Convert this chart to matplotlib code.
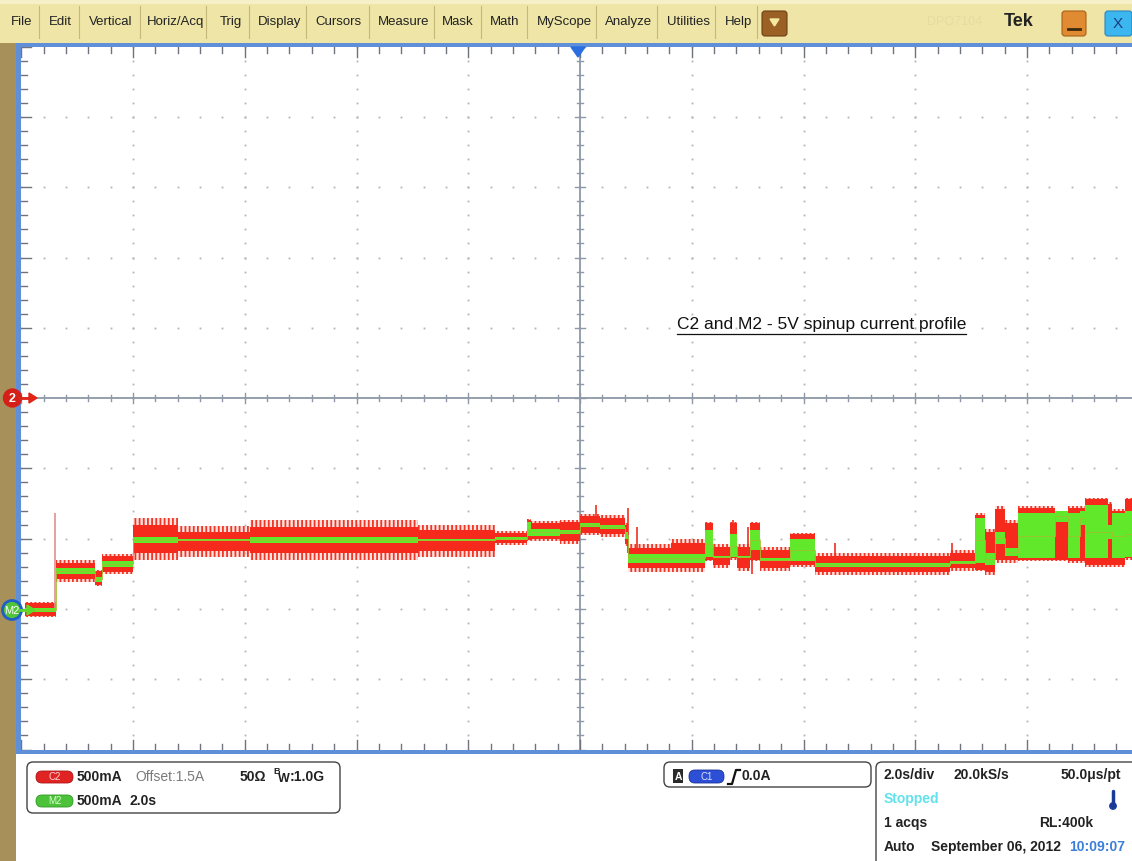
import numpy as np
import matplotlib.pyplot as plt
from matplotlib.patches import Rectangle, FancyBboxPatch, Circle, Polygon

plt.rcParams['font.family'] = ['Liberation Sans', 'DejaVu Sans']
plt.rcParams['hatch.linewidth'] = 1.3

# scope settings
sec_per_div = 2.0
amp_per_div = 0.5
offset_amp = 1.5

# waveform segments (start time in s, currents in A)
seg_start = [-9.93, -9.37, -8.68, -8.56, -8.00, -7.19, -5.90, -2.90, -1.53, -0.95,
             -0.88, -0.36, 0.00, 0.36, 0.81, 0.86, 1.62, 2.24, 2.38, 2.69,
             2.81, 3.04, 3.22, 3.76, 4.21, 6.62, 7.07, 7.25, 7.43, 7.61,
             7.84, 8.50, 8.73, 8.95, 9.04, 9.45, 9.52, 9.75]
seg_end = 10.0
c2_low = [-0.05, 0.21, 0.17, 0.26, 0.40, 0.41, 0.40, 0.41, 0.47, 0.49,
          0.50, 0.48, 0.54, 0.53, 0.46, 0.29, 0.29, 0.35, 0.31, 0.36,
          0.29, 0.35, 0.29, 0.31, 0.26, 0.29, 0.28, 0.26, 0.35, 0.35,
          0.35, 0.35, 0.34, 0.34, 0.31, 0.31, 0.31, 0.36]
c2_high = [0.04, 0.33, 0.27, 0.38, 0.60, 0.55, 0.58, 0.56, 0.54, 0.63,
           0.61, 0.62, 0.66, 0.65, 0.60, 0.43, 0.47, 0.61, 0.44, 0.61,
           0.44, 0.61, 0.42, 0.53, 0.38, 0.40, 0.67, 0.55, 0.71, 0.61,
           0.72, 0.62, 0.72, 0.72, 0.78, 0.75, 0.70, 0.78]
c2_fringe = [0.01, 0.02, 0.01, 0.01, 0.05, 0.04, 0.05, 0.04, 0.015, 0.01,
             0.015, 0.015, 0.015, 0.015, 0.01, 0.03, 0.03, 0.01, 0.02, 0.01,
             0.02, 0.01, 0.02, 0.01, 0.02, 0.02, 0.01, 0.02, 0.02, 0.02,
             0.01, 0.01, 0.01, 0.01, 0.01, 0.01, 0.01, 0.01]
m2_low = [-0.02, 0.25, 0.19, 0.30, 0.47, 0.48, 0.47, 0.48, 0.49, 0.52,
          0.52, 0.53, 0.58, 0.57, 0.50, 0.33, 0.33, 0.37, 0.36, 0.37,
          0.36, 0.42, 0.34, 0.34, 0.30, 0.32, 0.33, 0.31, 0.46, 0.38,
          0.36, 0.62, 0.36, 0.60, 0.36, 0.50, 0.36, 0.37]
m2_high = [0.01, 0.29, 0.23, 0.34, 0.51, 0.50, 0.51, 0.50, 0.51, 0.62,
           0.57, 0.56, 0.61, 0.60, 0.55, 0.39, 0.39, 0.56, 0.38, 0.53,
           0.38, 0.56, 0.36, 0.50, 0.33, 0.34, 0.65, 0.40, 0.55, 0.43,
           0.68, 0.70, 0.68, 0.70, 0.74, 0.60, 0.68, 0.70]

# isolated spikes on C2 (time, low, high)
spike_t = [0.29, 0.86, 1.02, 2.74, 3.00, 3.08, 4.57, 6.66, 9.43, -0.93]
spike_lo = [0.55, 0.40, 0.35, 0.40, 0.27, 0.25, 0.35, 0.32, 0.40, 0.50]
spike_hi = [0.74, 0.72, 0.58, 0.63, 0.58, 0.60, 0.47, 0.47, 0.78, 0.64]

menu_items = ['File', 'Edit', 'Vertical', 'Horiz/Acq', 'Trig', 'Display', 'Cursors',
              'Measure', 'Mask', 'Math', 'MyScope', 'Analyze', 'Utilities', 'Help']
menu_x = [11, 49, 89, 147, 220, 258, 315, 378, 442, 490, 537, 605, 667, 725]
menu_sep = [39, 79, 140, 206, 249, 306, 369, 434, 481, 527, 596, 657, 715, 757]

W, H = 1132, 861
fig = plt.figure(figsize=(W / 100, H / 100), dpi=100)

# background / chrome layer in pixel coordinates
ui = fig.add_axes([0, 0, 1, 1], zorder=0)
ui.set_xlim(0, W)
ui.set_ylim(H, 0)
ui.axis('off')

ui.add_patch(Rectangle((0, 0), W, 43, color='#eee5a6', lw=0))
ui.add_patch(Rectangle((0, 0), W, 4, color='#f6f0c8', lw=0))
for x, name in zip(menu_x, menu_items):
    ui.text(x, 22, name, fontsize=9.5, va='center', ha='left', color='#222222')
for x in menu_sep:
    ui.plot([x, x], [6, 38], color='#c6b977', lw=0.8)
ui.add_patch(FancyBboxPatch((762, 11), 25, 25, boxstyle='round,pad=0,rounding_size=3',
                            fc='#9a6024', ec='#6e4015', lw=0.8))
ui.add_patch(Polygon([[770, 19], [779, 19], [774.5, 26]], closed=True, color='#f4e9a0'))
ui.text(955, 22, 'DPO7104', fontsize=9, va='center', ha='center', color='#e6dca0')
ui.text(1019, 22, 'Tek', fontsize=13, fontweight='bold', va='center', ha='center', color='#222222')
ui.add_patch(FancyBboxPatch((1062, 11), 24, 25, boxstyle='round,pad=0,rounding_size=3',
                            fc='#e08a32', ec='#a8601c', lw=0.8))
ui.plot([1068, 1080], [29, 29], color='#3a2a10', lw=2)
ui.add_patch(FancyBboxPatch((1105, 11), 27, 25, boxstyle='round,pad=0,rounding_size=3',
                            fc='#3cb6ee', ec='#2a86c0', lw=0.8))
ui.text(1118, 24, 'X', fontsize=11, va='center', ha='center', color='#1a3c80')

# left brown strip
ui.add_patch(Rectangle((0, 43), 16, H - 43, color='#a8905a', lw=0))

# graticule
ax = fig.add_axes([21.25 / W, (H - 749.5) / H, 1117.5 / W, 702.8 / H], zorder=1)
ax.set_xlim(-5 * sec_per_div, 5 * sec_per_div)
ax.set_ylim(offset_amp - 5 * amp_per_div, offset_amp + 5 * amp_per_div)
ax.axis('off')
ax.add_patch(Rectangle((-10, -1), 20, 5, color='white', zorder=0))

px_x = 20 / 1117.5
px_y = 5 / 702.8
minor_x = np.arange(-10, 10.01, sec_per_div / 5)
minor_y = np.arange(-1, 4.001, amp_per_div / 5)
major_x = np.arange(-8, 8.01, sec_per_div)
major_y = np.arange(-0.5, 3.51, amp_per_div)

for gx in major_x:
    if abs(gx) > 1e-9:
        ax.plot(np.full_like(minor_y, gx), minor_y, ls='none', marker='s', ms=1.3,
                color='#b4b4b4', mew=0, zorder=1)
for gy in major_y:
    if abs(gy - offset_amp) > 1e-9:
        ax.plot(minor_x, np.full_like(minor_x, gy), ls='none', marker='s', ms=1.3,
                color='#b4b4b4', mew=0, zorder=1)

ax.axhline(offset_amp, color='#8e98a6', lw=1.3, zorder=1)
ax.axvline(0, color='#8e98a6', lw=1.3, zorder=1)
for x in minor_x:
    is_major = abs(x / sec_per_div - round(x / sec_per_div)) < 1e-6
    l = (5 if is_major else 3) * px_y
    ax.plot([x, x], [offset_amp - l, offset_amp + l], color='#8e98a6', lw=1, zorder=1)
    lt = (10 if is_major else 6) * px_y
    ax.plot([x, x], [4 - lt, 4], color='#6f747c', lw=1, zorder=1)
    ax.plot([x, x], [-1, -1 + lt], color='#6f747c', lw=1, zorder=1)
for y in minor_y:
    is_major = abs((y + 1) / amp_per_div - round((y + 1) / amp_per_div)) < 1e-6
    l = (5 if is_major else 3) * px_x
    ax.plot([-l, l], [y, y], color='#8e98a6', lw=1, zorder=1)
    lt = (10 if is_major else 6) * px_x
    ax.plot([-10, -10 + lt], [y, y], color='#6f747c', lw=1, zorder=1)

# waveforms
edges = np.r_[seg_start, seg_end]
lo = np.r_[c2_low, c2_low[-1]]
hi = np.r_[c2_high, c2_high[-1]]
fr = np.r_[c2_fringe, c2_fringe[-1]]
ax.fill_between(edges, lo - fr, hi + fr, step='post', color='#ffb0a8', lw=0, alpha=0.35, zorder=2)
ax.fill_between(edges, lo - fr, hi + fr, step='post', facecolor='none', edgecolor='#f03626',
                hatch='||||', lw=0, zorder=2)
ax.fill_between(edges, lo, hi, step='post', color='#f52a1c', lw=0, zorder=3)
ax.vlines(spike_t, spike_lo, spike_hi, color='#f03020', lw=1.2, zorder=3)
ax.vlines([-9.39], [0.0], [0.68], color='#e09090', lw=1.2, zorder=3)
glo = np.r_[m2_low, m2_low[-1]]
ghi = np.r_[m2_high, m2_high[-1]]
ax.fill_between(edges, glo, ghi, step='post', color='#62e82a', lw=0, zorder=4)
ax.step(edges, (glo + ghi) / 2, where='post', color='#9fc030', lw=0.6, zorder=5)

ax.text(1.736, 2.025, 'C2 and M2 - 5V spinup current profile', fontsize=12.5,
        ha='left', va='center', color='#111111', zorder=6)
ax.plot([1.736, 6.91], [1.955, 1.955], color='#111111', lw=0.9, zorder=6)

# overlay: frame and markers
ov = fig.add_axes([0, 0, 1, 1], zorder=2)
ov.set_xlim(0, W)
ov.set_ylim(H, 0)
ov.axis('off')
ov.patch.set_alpha(0)
ov.add_patch(Rectangle((16, 43), 5, 711, color='#5f8fd8', lw=0))
ov.add_patch(Rectangle((16, 43), W - 16, 4, color='#5f8fd8', lw=0))
ov.add_patch(Rectangle((16, 750), W - 16, 4, color='#5f8fd8', lw=0))
ov.add_patch(Polygon([[571, 47], [585, 47], [578, 57]], closed=True, color='#2a6ee0'))

ov.plot([20, 32], [398, 398], color='#e02418', lw=2)
ov.add_patch(Polygon([[29, 393], [37, 398], [29, 403]], closed=True, color='#e02418'))
ov.add_patch(Circle((12.5, 398), 9, color='#d42018'))
ov.text(12.5, 398.5, '2', fontsize=9, fontweight='bold', color='white', ha='center', va='center')

ov.plot([20, 30], [610, 610], color='#5ed82a', lw=2)
ov.add_patch(Polygon([[27, 605], [35, 610], [27, 615]], closed=True, color='#5ed82a'))
ov.add_patch(Circle((12, 610), 9.5, fc='#52c43a', ec='#1f5fc8', lw=2))
ov.text(12, 610.5, 'M2', fontsize=8, color='white', ha='center', va='center')

# bottom panels
ov.add_patch(FancyBboxPatch((27, 762), 313, 51, boxstyle='round,pad=0,rounding_size=6',
                            fc='white', ec='#444444', lw=1))
ov.add_patch(FancyBboxPatch((36, 771), 37, 12, boxstyle='round,pad=0,rounding_size=6',
                            fc='#e02424', ec='#b01414', lw=0.6))
ov.text(54.5, 777, 'C2', fontsize=7, color='#ffd0d0', ha='center', va='center')
ov.add_patch(FancyBboxPatch((36, 795), 37, 12, boxstyle='round,pad=0,rounding_size=6',
                            fc='#4cc23a', ec='#2e9a22', lw=0.6))
ov.text(54.5, 801, 'M2', fontsize=7, color='#d8ffd0', ha='center', va='center')
ov.text(77, 777, '500mA', fontsize=10, fontweight='bold', va='center', color='#222222')
ov.text(135, 777, 'Offset:1.5A', fontsize=10, va='center', color='#7a7a7a')
ov.text(240, 777, '50\u03a9', fontsize=10, fontweight='bold', va='center', color='#222222')
ov.text(273, 772, 'B', fontsize=6.5, fontweight='bold', va='center', color='#222222')
ov.text(278, 779, 'W', fontsize=9, fontweight='bold', va='center', color='#222222')
ov.text(290, 777, ':1.0G', fontsize=10, fontweight='bold', va='center', color='#222222')
ov.text(77, 801, '500mA', fontsize=10, fontweight='bold', va='center', color='#222222')
ov.text(129, 801, '2.0s', fontsize=10, fontweight='bold', va='center', color='#222222')

ov.add_patch(FancyBboxPatch((664, 762), 207, 25, boxstyle='round,pad=0,rounding_size=6',
                            fc='white', ec='#444444', lw=1))
ov.add_patch(Rectangle((673, 769), 10, 14, color='#2a2a2a', lw=0))
ov.text(678, 776.5, 'A', fontsize=7.5, fontweight='bold', color='white', ha='center', va='center')
ov.add_patch(FancyBboxPatch((689, 770), 35, 13, boxstyle='round,pad=0,rounding_size=6',
                            fc='#2c4fd6', ec='#1a3298', lw=0.6))
ov.text(706.5, 776.5, 'C1', fontsize=7, color='#d8e0ff', ha='center', va='center')
ov.plot([728, 732, 734, 736, 740], [784, 784, 777, 770, 770], color='#111111', lw=1.6)
ov.text(742, 776.5, '0.0A', fontsize=10, fontweight='bold', va='center', color='#222222')

ov.add_patch(FancyBboxPatch((876, 762), 300, 140, boxstyle='round,pad=0,rounding_size=6',
                            fc='white', ec='#444444', lw=1))
ov.text(884, 775, '2.0s/div', fontsize=10, fontweight='bold', va='center', color='#222222')
ov.text(954, 775, '20.0kS/s', fontsize=10, fontweight='bold', va='center', color='#222222')
ov.text(1121, 775, '50.0\u03bcs/pt', fontsize=10, fontweight='bold', va='center', ha='right',
        color='#222222')
ov.text(884, 799, 'Stopped', fontsize=10, fontweight='bold', va='center', color='#62e2ec')
ov.plot([1113, 1113], [791, 805], color='#1a3a9a', lw=2.5, solid_capstyle='round')
ov.add_patch(Circle((1113, 806), 3.2, color='#1a3a9a'))
ov.text(884, 823, '1 acqs', fontsize=10, fontweight='bold', va='center', color='#222222')
ov.text(1093, 823, 'RL:400k', fontsize=10, fontweight='bold', va='center', ha='right',
        color='#222222')
ov.text(884, 847, 'Auto', fontsize=10, fontweight='bold', va='center', color='#222222')
ov.text(931, 847, 'September 06, 2012', fontsize=10, fontweight='bold', va='center',
        color='#222222')
ov.text(1069, 847, '10:09:07', fontsize=10, fontweight='bold', va='center', color='#3b7fd8')

fig.savefig('out.png', dpi=100)
